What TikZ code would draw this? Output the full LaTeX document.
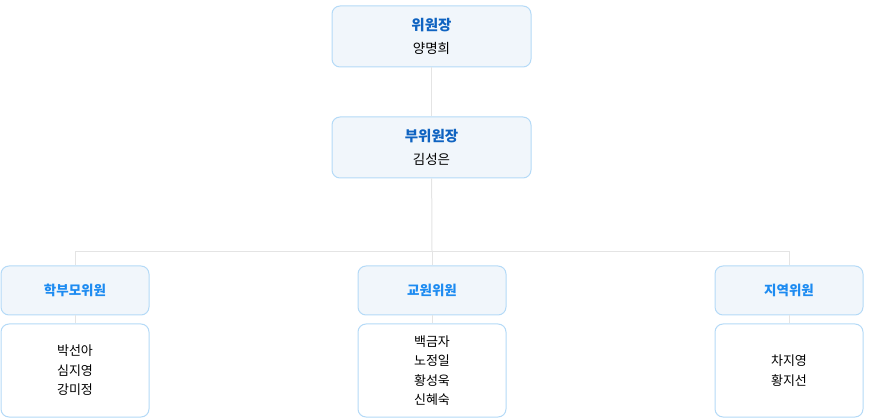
\documentclass[tikz,border=0pt]{standalone}
\usepackage{fontspec}
\setmainfont{Noto Sans CJK KR}
\usetikzlibrary{positioning}

\definecolor{boxfill}{HTML}{F1F6FB}
\definecolor{boxline}{HTML}{B4DAF7}
\definecolor{titleblue}{HTML}{0F63C1}
\definecolor{headblue}{HTML}{1D8BF1}
\definecolor{linegray}{HTML}{E4E4E4}

\tikzset{
    chairbox/.style={draw=boxline, fill=boxfill, line width=1pt, rounded corners=8pt,
        minimum width=199pt, minimum height=61pt, inner sep=0pt, align=center,
        font=\fontsize{13.5}{23}\selectfont},
    headbox/.style={draw=boxline, fill=boxfill, line width=1pt, rounded corners=8pt,
        minimum width=148pt, minimum height=49pt, inner sep=0pt, align=center,
        text=headblue, font=\fontsize{13.5}{16}\selectfont\bfseries},
    memberbox/.style={draw=boxline, fill=white, line width=1pt, rounded corners=8pt,
        minimum width=148pt, minimum height=93pt, inner sep=0pt, align=center,
        font=\fontsize{13}{19.5}\selectfont},
    connector/.style={draw=linegray, line width=1pt},
}

\newcommand{\chairtitle}[2]{{\color{titleblue}\fontsize{14.5}{23}\selectfont\bfseries #1}\\#2}

\begin{document}
\begin{tikzpicture}[x=1pt, y=-1pt]
    \useasboundingbox (0,0) rectangle (870,419);

    % Vertice
    \node[chairbox] (chair) at (431.5,36.5) {\chairtitle{위원장}{양명희}};
    \node[chairbox] (vice) at (431.5,147.5) {\chairtitle{부위원장}{김성은}};

    % Gruppi
    \node[headbox] (parents) at (75,290.5) {학부모위원};
    \node[headbox] (teachers) at (432,290.5) {교원위원};
    \node[headbox] (region) at (789,290.5) {지역위원};

    % Membri
    \node[memberbox] (parentsmembers) at (75,370.5) {박선아\\심지영\\강미정};
    \node[memberbox] (teachersmembers) at (432,370.5) {백금자\\노정일\\황성욱\\신혜숙};
    \node[memberbox] (regionmembers) at (789,370.5) {차지영\\황지선};

    % Linee
    \coordinate (branch) at (432,251.5);
    \draw[connector] (chair) -- (vice);
    \draw[connector] (vice) -- (branch);
    \draw[connector] (parents) |- (branch) -| (region);
    \draw[connector] (branch) -- (teachers);
    \draw[connector] (parents) -- (parentsmembers);
    \draw[connector] (teachers) -- (teachersmembers);
    \draw[connector] (region) -- (regionmembers);
\end{tikzpicture}
\end{document}
